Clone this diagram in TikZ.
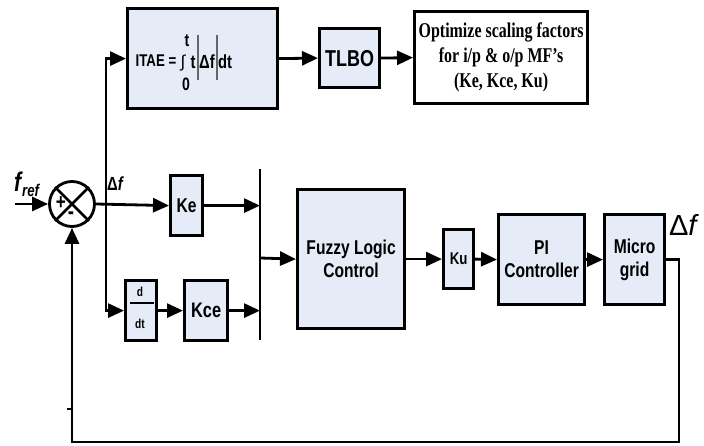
\documentclass[tikz,border=0pt]{standalone}
\usepackage{fontspec}
\setmainfont{Liberation Sans}[FakeStretch=0.78]
\newfontfamily\serifc{Liberation Serif}[FakeStretch=0.76]
\newfontfamily\plainsans{Liberation Sans}
\usetikzlibrary{arrows.meta}
\definecolor{boxfill}{RGB}{229,236,247}
\begin{document}
\begin{tikzpicture}[x=1pt,y=-1pt,
  blk/.style={draw, line width=3.2pt, fill=boxfill, inner sep=0pt, anchor=north west, align=center, font=\bfseries},
  wblk/.style={draw, line width=3.2pt, fill=white, inner sep=0pt, anchor=north west, align=center},
  con/.style={line width=2.8pt, -{Triangle[length=16pt,width=14pt]}},
  sline/.style={line width=2.8pt},
  lbl/.style={inner sep=0pt, font=\bfseries}]
\useasboundingbox (0,0) rectangle (704,446);

% top row
\node[blk, minimum width=150pt, minimum height=100pt] (itae) at (126,7) {};
\node[lbl, font=\bfseries\fontsize{17}{17}\selectfont] (itaeL) at (156,61) {ITAE =};
\node[lbl, font=\plainsans\fontsize{17}{17}\selectfont] (intg) at (183,63) {∫};
\node[lbl, font=\bfseries\fontsize{18}{18}\selectfont] (tup) at (187,41) {t};
\node[lbl, font=\bfseries\fontsize{18}{18}\selectfont] (zlo) at (186,84) {0};
\node[lbl, font=\bfseries\fontsize{19}{19}\selectfont] (tt) at (193,62) {t};
\node[lbl, font=\bfseries\fontsize{19}{19}\selectfont] (df) at (207,62) {Δf};
\node[lbl, font=\bfseries\fontsize{19}{19}\selectfont] (dtt) at (225,62) {dt};
\coordinate (b1t) at (198,35); \coordinate (b1b) at (198,80);
\coordinate (b2t) at (217,35); \coordinate (b2b) at (217,80);
\draw[line width=1.2pt, black!60] (b1t) -- (b1b);
\draw[line width=1.2pt, black!60] (b2t) -- (b2b);

\node[blk, minimum width=60pt, minimum height=59pt, font=\bfseries\fontsize{23}{23}\selectfont] (tlbo) at (318,27) {TLBO};
\node[wblk, minimum width=173pt, minimum height=92pt, font=\serifc\bfseries\fontsize{21}{25}\selectfont] (opt) at (413,10) {Optimize scaling factors\\for i/p \& o/p MF’s\\(Ke, Kce, Ku)};

% summing junction
\node[draw, circle, line width=2.8pt, minimum size=45pt, inner sep=0pt] (sum) at (72,204) {};
\draw[sline] (sum.north west) -- (sum.south east);
\draw[sline] (sum.north east) -- (sum.south west);
\node[lbl, font=\bfseries\fontsize{22}{22}\selectfont] (plus) at (61,203) {+};
\node[lbl, font=\bfseries\fontsize{24}{24}\selectfont] (minus) at (71,216) {-};

\node[lbl, anchor=base west] (fref) at (14,192) {\fontsize{27}{27}\selectfont\bfseries\itshape f\kern1pt\raisebox{-5pt}{\fontsize{17}{17}\selectfont ref}};
\node[lbl, font=\bfseries\fontsize{19}{19}\selectfont, anchor=base west] (dfl) at (107,191) {Δ\textit{f}};

% lower blocks
\node[blk, minimum width=32pt, minimum height=60pt, font=\bfseries\fontsize{20}{20}\selectfont] (ke) at (169,174) {Ke};
\node[blk, minimum width=31pt, minimum height=60pt] (ddt) at (124,279) {};
\node[lbl, font=\bfseries\fontsize{13}{13}\selectfont] (dnum) at (140,292) {d};
\node[lbl, font=\bfseries\fontsize{13}{13}\selectfont] (dden) at (140,324) {dt};
\coordinate (fl) at (130,303); \coordinate (fr) at (154,303);
\draw[line width=1.6pt] (fl) -- (fr);
\node[blk, minimum width=43pt, minimum height=60pt, font=\bfseries\fontsize{21}{21}\selectfont] (kce) at (183,279) {Kce};

\coordinate (bt) at (260,169); \coordinate (bb) at (260,340); \coordinate (bm) at (260,258);
\draw[sline] (bt) -- (bb);

\node[blk, minimum width=107pt, minimum height=139pt, font=\bfseries\fontsize{20}{23}\selectfont] (fuzzy) at (296,188) {Fuzzy Logic\\Control};
\node[blk, minimum width=30pt, minimum height=59pt, font=\bfseries\fontsize{17}{17}\selectfont] (ku) at (442,228) {Ku};
\node[blk, minimum width=86pt, minimum height=90pt, font=\bfseries\fontsize{20}{23}\selectfont] (pi) at (497,213) {PI\\Controller};
\node[blk, minimum width=60pt, minimum height=90pt, font=\bfseries\fontsize{20}{23}\selectfont] (mg) at (603,213) {Micro\\grid};
\node[inner sep=0pt, font=\plainsans\fontsize{29}{29}\selectfont] (dfr) at (684,225) {Δ\textit{f}};

% connectors
\coordinate (in) at (15,204);
\coordinate (br) at (106,204);
\coordinate (c1) at (679,442);
\coordinate (tk) at (67,409); \coordinate (tk2) at (72,409);
\draw[con] (in) -- (sum.west);
\draw[con] (sum.east) -- (ke.west);
\draw[con] (br) |- (itae.west);
\draw[con] (br) |- (ddt.west);
\draw[con] (itae.east) -- (tlbo.west);
\draw[con] (tlbo.east) -- (opt.west);
\draw[con] (ke.east) -- (ke.east -| bt);
\draw[con] (ddt.east) -- (kce.west);
\draw[con] (kce.east) -- (kce.east -| bt);
\draw[con] (bm) -- (fuzzy.west);
\draw[con] (fuzzy.east) -- (ku.west);
\draw[con] (ku.east) -- (pi.west);
\draw[con] (pi.east) -- (mg.west);
\draw[con] (mg.east) -| (c1) -| (sum.south);
\draw[sline] (tk) -- (tk2);
\end{tikzpicture}
\end{document}
